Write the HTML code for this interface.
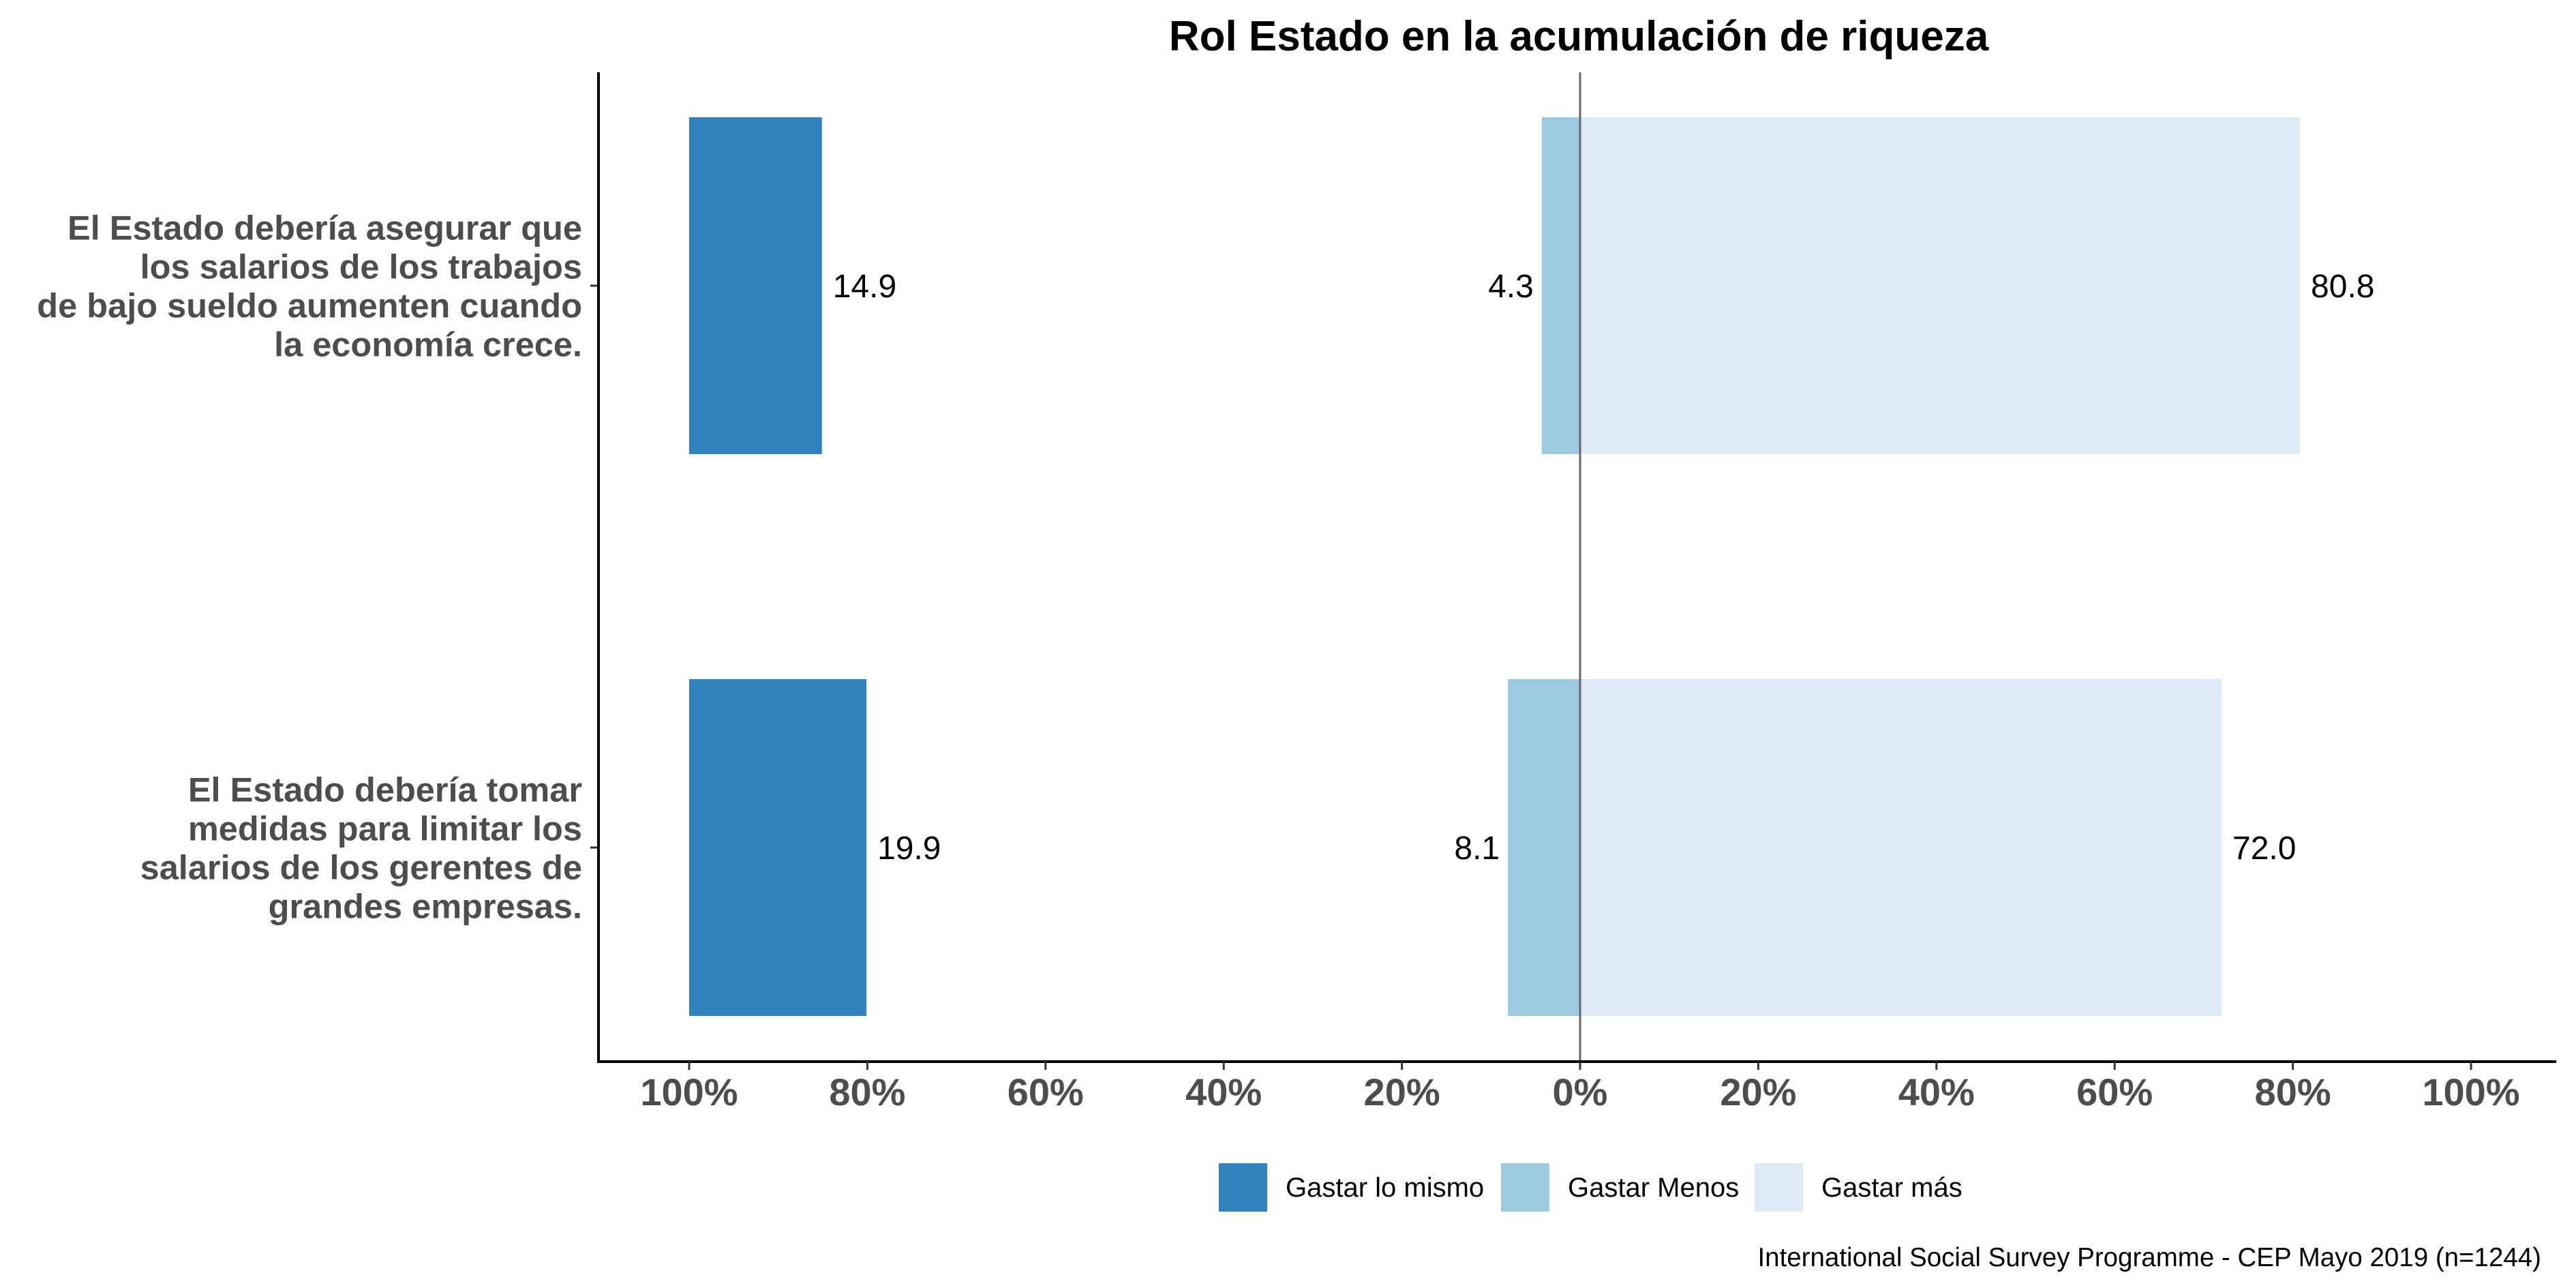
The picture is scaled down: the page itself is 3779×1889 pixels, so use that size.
<!DOCTYPE html>
<html><head><meta charset="utf-8"><style>
html,body{margin:0;padding:0;background:#fff;}
svg{display:block;font-family:"Liberation Sans",Arial,sans-serif;}
</style></head><body>
<svg id="chart" width="3779" height="1889" viewBox="0 0 3779 1889" xmlns="http://www.w3.org/2000/svg">
<rect width="3779" height="1889" fill="#fff"/>
<text x="2316" y="74" text-anchor="middle" font-size="62" font-weight="bold" fill="#000">Rol Estado en la acumulación de riqueza</text>
<g id="plot"></g>
<g>
<rect x="1788" y="1706" width="71" height="71" fill="#3182bd"/>
<text x="1886" y="1755" font-size="40" fill="#000">Gastar lo mismo</text>
<rect x="2202" y="1706" width="71" height="71" fill="#9ecae1"/>
<text x="2300" y="1755" font-size="40" fill="#000">Gastar Menos</text>
<rect x="2574" y="1706" width="71" height="71" fill="#deebf7"/>
<text x="2672" y="1755" font-size="40" fill="#000">Gastar más</text>
</g>
<text x="3728" y="1857" text-anchor="end" font-size="38.5" fill="#000">International Social Survey Programme - CEP Mayo 2019 (n=1244)</text>
</svg>
<script>
const categories = [
  ["El Estado debería asegurar que","los salarios de los trabajos","de bajo sueldo aumenten cuando","la economía crece."],
  ["El Estado debería tomar","medidas para limitar los","salarios de los gerentes de","grandes empresas."]
];
const mismoValues = [14.9, 19.9];
const menosValues = [4.3, 8.1];
const masValues = [80.8, 72.0];
const tickValues = [-100, -80, -60, -40, -20, 0, 20, 40, 60, 80, 100];
const tickLabels = ["100%","80%","60%","40%","20%","0%","20%","40%","60%","80%","100%"];

const NS = "http://www.w3.org/2000/svg";
const g = document.getElementById('plot');
const X0 = 2318, PX = 13.07;
function xScale(v){ return X0 + v * PX; }
const Y0 = 419, STEP = 824, BH = 494;
function yScale(i){ return Y0 + i * STEP; }
const axTop = 106, axBot = 1557, axLeft = 878, axRight = 3750;

function mk(tag, attrs){ const e = document.createElementNS(NS, tag); for (const k in attrs) e.setAttribute(k, attrs[k]); g.appendChild(e); return e; }

function bar(x1, x2, i, fill, name){
  const r = mk('rect', {x: Math.min(x1,x2), y: yScale(i)-BH/2, width: Math.abs(x2-x1), height: BH, fill: fill});
  
  
}
function label(x, i, txt, anchor, name){
  const t = mk('text', {x: x, y: yScale(i)+17, 'font-size': 48, fill: '#000', 'text-anchor': anchor});
  t.textContent = txt;
  
  
}

categories.forEach((cat, i) => {
  bar(xScale(-100), xScale(-100 + mismoValues[i]), i, '#3182bd', 'bar-gastar-lo-mismo');
  bar(xScale(-menosValues[i]), xScale(0), i, '#9ecae1', 'bar-gastar-menos');
  bar(xScale(0), xScale(masValues[i]), i, '#deebf7', 'bar-gastar-mas');
  label(xScale(-100 + mismoValues[i]) + 16, i, mismoValues[i].toFixed(1), 'start', 'value-label-gastar-lo-mismo');
  label(xScale(-menosValues[i]) - 12, i, menosValues[i].toFixed(1), 'end', 'value-label-gastar-menos');
  label(xScale(masValues[i]) + 16, i, masValues[i].toFixed(1), 'start', 'value-label-gastar-mas');
  const tk = mk('line', {x1: axLeft-12, x2: axLeft, y1: yScale(i), y2: yScale(i), stroke: '#333', 'stroke-width': 3});
  
  
  const n = cat.length, lh = 57;
  cat.forEach((line, j) => {
    const t = mk('text', {x: 854, y: yScale(i) + (j - (n-1)/2) * lh + 18, 'font-size': 50.5, 'font-weight': 'bold', fill: '#4d4d4d', 'text-anchor': 'end'});
    t.textContent = line;
    
    
  });
});

const zl = mk('line', {x1: X0, x2: X0, y1: axTop, y2: axBot, stroke: '#666', 'stroke-width': 3});



const la = mk('line', {x1: axLeft, x2: axLeft, y1: axTop, y2: axBot+2, stroke: '#000', 'stroke-width': 4});


const ba = mk('line', {x1: axLeft-2, x2: axRight, y1: axBot, y2: axBot, stroke: '#000', 'stroke-width': 4});



tickValues.forEach((v, k) => {
  const l = mk('line', {x1: xScale(v), x2: xScale(v), y1: axBot, y2: axBot+12, stroke: '#333', 'stroke-width': 3});
  
  
  const t = mk('text', {x: xScale(v), y: axBot+64, 'font-size': 56, 'font-weight': 'bold', fill: '#4d4d4d', 'text-anchor': 'middle'});
  t.textContent = tickLabels[k];
  
  
});
</script>
</body></html>
